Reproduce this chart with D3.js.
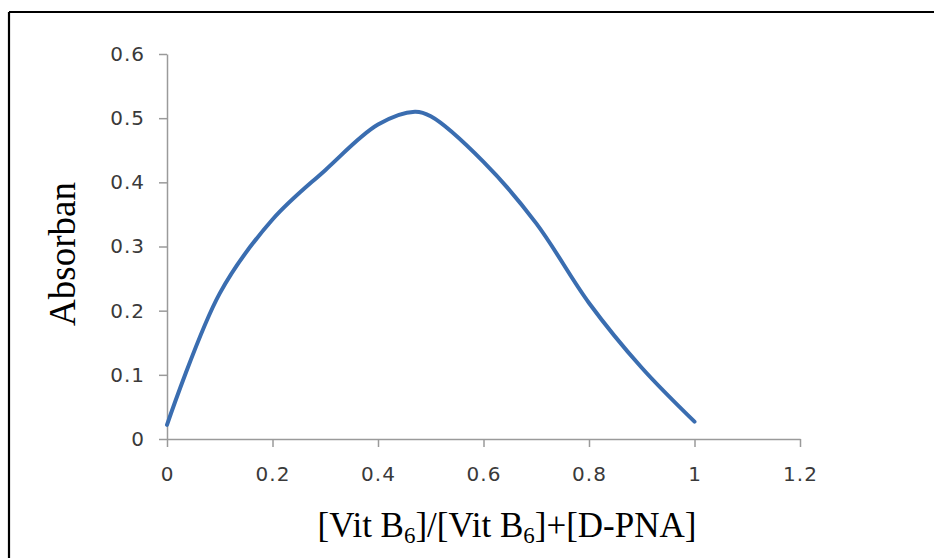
<!DOCTYPE html>
<html lang="en">
<head>
    <meta charset="UTF-8">
    <title>Absorban vs mole fraction</title>
    <script src="https://cdn.jsdelivr.net/npm/d3@7/dist/d3.min.js"></script>
    <style>
        body { margin: 0; background: #ffffff; }
        .tick text { font-family: "DejaVu Sans", sans-serif; letter-spacing: 1px; fill: #3a3a3a; }
        .tick line, .domain { stroke: #9a9a9a; stroke-width: 1.5; }
        .title { font-family: "Liberation Serif", "Times New Roman", serif; fill: #000; }
    </style>
</head>
<body>
<svg id="mainsvg" width="934" height="558"></svg>
<script>

    // data
    const ratio = [0, 0.1, 0.2, 0.3, 0.4, 0.47, 0.5, 0.6, 0.7, 0.8, 0.9, 1.0];
    const absorban = [0.022, 0.227, 0.342, 0.419, 0.49, 0.51, 0.503, 0.432, 0.336, 0.212, 0.111, 0.027];
    const xTicks = [0, 0.2, 0.4, 0.6, 0.8, 1, 1.2];
    const yTicks = [0, 0.1, 0.2, 0.3, 0.4, 0.5, 0.6];

    const svg = d3.select('#mainsvg');
    const margin = {top: 54, right: 134, bottom: 119, left: 167};
    const width = +svg.attr('width');
    const height = +svg.attr('height');

    // frame (only top and left edges show)
    svg.append('line').attr('x1', 9).attr('y1', 12).attr('x2', width).attr('y2', 12)
        .attr('stroke', '#000').attr('stroke-width', 2.2);
    svg.append('line').attr('x1', 9).attr('y1', 12).attr('x2', 9).attr('y2', height)
        .attr('stroke', '#000').attr('stroke-width', 2.2);

    const xScale = d3.scaleLinear().domain([0, 1.2]).range([margin.left, width - margin.right]);
    const yScale = d3.scaleLinear().domain([0, 0.6]).range([height - margin.bottom, margin.top]);

    svg.append('g')
        .attr('transform', `translate(0,${height - margin.bottom})`)
        .call(d3.axisBottom(xScale).tickValues(xTicks).tickFormat(d3.format('')).tickSize(8).tickSizeOuter(0).tickPadding(20))
        .attr('font-size', 20);
    svg.append('g')
        .attr('transform', `translate(${margin.left},0)`)
        .call(d3.axisLeft(yScale).tickValues(yTicks).tickFormat(d3.format('')).tickSize(8).tickSizeOuter(0).tickPadding(14))
        .attr('font-size', 20);

    // smoothed line like the spreadsheet
    const line = d3.line()
        .x((d, i) => xScale(ratio[i]))
        .y(d => yScale(d))
        .curve(d3.curveCatmullRom.alpha(0.5));

    svg.append('path')
        .datum(absorban)
        .attr('d', line)
        .attr('fill', 'none')
        .attr('stroke', '#3a6db0')
        .attr('stroke-width', 4)
        .attr('stroke-linecap', 'round');

    // axis titles
    const xTitle = svg.append('text').attr('class', 'title')
        .attr('x', 507).attr('y', 537)
        .attr('text-anchor', 'middle')
        .attr('font-size', 35);
    xTitle.append('tspan').text('[Vit B');
    xTitle.append('tspan').attr('font-size', 23).attr('dy', 6).text('6');
    xTitle.append('tspan').attr('dy', -6).text(']/[Vit B');
    xTitle.append('tspan').attr('font-size', 23).attr('dy', 6).text('6');
    xTitle.append('tspan').attr('dy', -6).text(']+[D-PNA]');

    svg.append('text').attr('class', 'title')
        .attr('transform', 'translate(75,254) rotate(-90)')
        .attr('text-anchor', 'middle')
        .attr('font-size', 37)
        .text('Absorban');

</script>
</body>
</html>
